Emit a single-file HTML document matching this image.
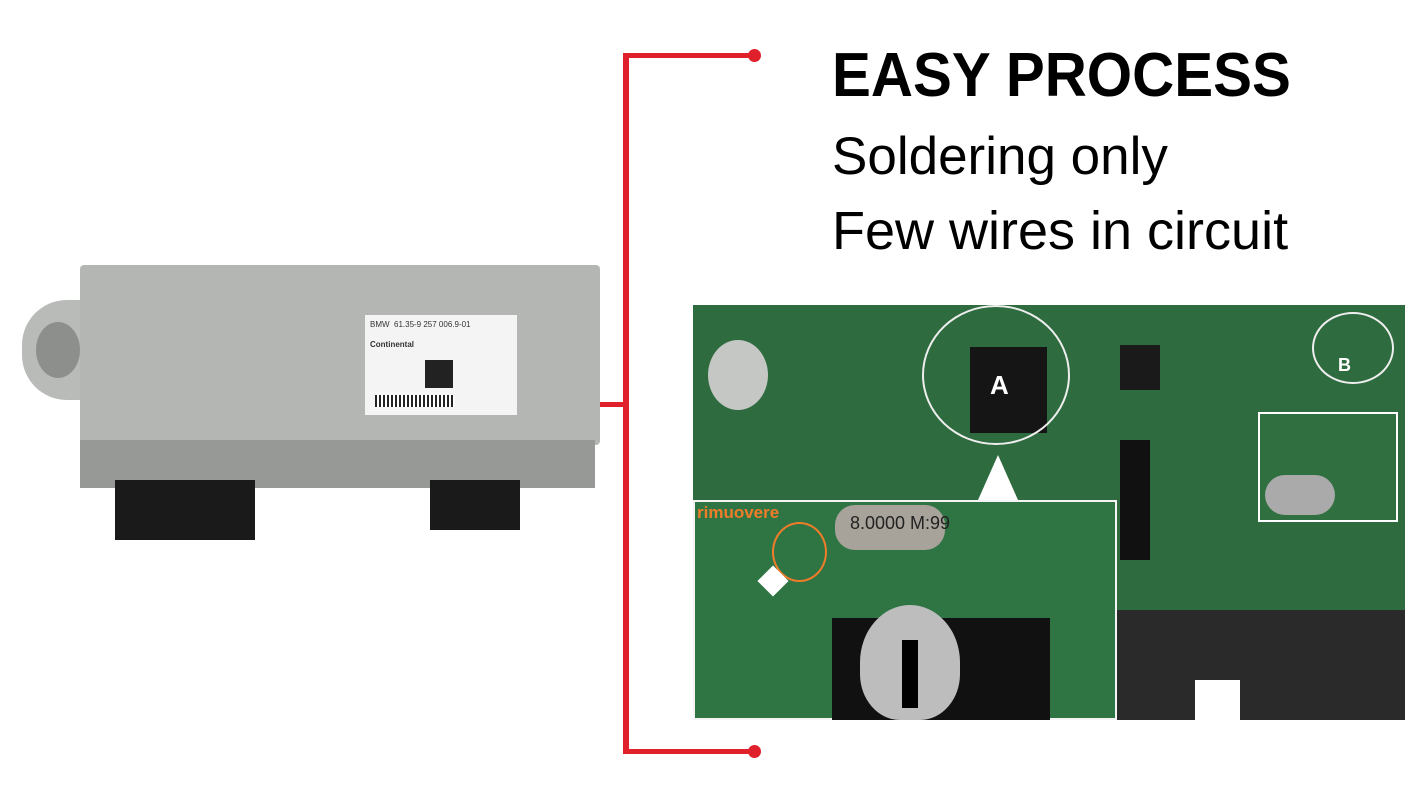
<!DOCTYPE html>
<html><head><meta charset="utf-8"><style>
body{margin:0;width:1424px;height:786px;background:#fff;position:relative;overflow:hidden;font-family:"Liberation Sans",sans-serif}
div{position:absolute;box-sizing:border-box}
.t{font-family:"Liberation Sans",sans-serif;color:#000;white-space:nowrap}
</style></head><body>
<!-- red bracket -->
<div style="left:623px;top:53px;width:6px;height:701px;background:#e0202a"></div>
<div style="left:623px;top:53px;width:132px;height:5px;background:#e0202a"></div>
<div style="left:623px;top:749px;width:132px;height:5px;background:#e0202a"></div>
<div style="left:535px;top:402px;width:92px;height:5px;background:#e0202a"></div>
<div style="left:748px;top:49px;width:13px;height:13px;border-radius:50%;background:#e0202a"></div>
<div style="left:748px;top:745px;width:13px;height:13px;border-radius:50%;background:#e0202a"></div>
<div style="left:527px;top:397px;width:14px;height:14px;border-radius:50%;background:#e0202a"></div>
<!-- text -->
<div class="t" style="left:832px;top:40px;font-size:62px;font-weight:bold;transform:scaleX(0.94);transform-origin:0 0">EASY PROCESS</div>
<div class="t" style="left:832px;top:126px;font-size:53px;">Soldering only</div>
<div class="t" style="left:832px;top:200px;font-size:54px;">Few wires in circuit</div>
<!-- module -->
<div style="left:22px;top:300px;width:70px;height:100px;background:#b9bbb8;border-radius:45px 0 0 45px"></div>
<div style="left:36px;top:322px;width:44px;height:56px;border-radius:50%;background:#8d8f8c"></div>
<div style="left:560px;top:320px;width:22px;height:70px;background:#a9aba8"></div>
<div style="left:80px;top:265px;width:520px;height:180px;background:#b4b6b3;border-radius:4px"></div>
<div style="left:80px;top:440px;width:515px;height:48px;background:#979996"></div>
<div style="left:115px;top:480px;width:140px;height:60px;background:#1a1a1a"></div>
<div style="left:430px;top:480px;width:90px;height:50px;background:#1a1a1a"></div>
<div style="left:365px;top:315px;width:152px;height:100px;background:#f4f4f4"></div>
<div style="left:425px;top:360px;width:28px;height:28px;background:#222"></div>
<div style="left:375px;top:395px;width:80px;height:12px;background:repeating-linear-gradient(90deg,#222 0 2px,#fff 2px 4px)"></div>
<div class="t" style="left:370px;top:320px;font-size:8px;color:#333">BMW &nbsp;61.35-9 257 006.9-01</div>
<div class="t" style="left:370px;top:340px;font-size:8px;color:#333;font-weight:bold">Continental</div>
<!-- PCB -->
<div style="left:693px;top:305px;width:712px;height:415px;background:#2e6b3e"></div>
<div style="left:1117px;top:610px;width:288px;height:110px;background:#2a2a2a"></div>
<div style="left:1195px;top:680px;width:45px;height:40px;background:#fff"></div>
<div style="left:708px;top:340px;width:60px;height:70px;border-radius:50%;background:#c5c7c4"></div>
<div style="left:970px;top:347px;width:77px;height:86px;background:#151515"></div>
<div class="t" style="left:990px;top:370px;font-size:26px;font-weight:bold;color:#fff">A</div>
<div style="left:922px;top:305px;width:148px;height:140px;border:2px solid #eee;border-radius:50%"></div>
<div style="left:1120px;top:345px;width:40px;height:45px;background:#1a1a1a"></div>
<div style="left:1120px;top:440px;width:30px;height:120px;background:#111"></div>
<div style="left:978px;top:455px;width:40px;height:45px;background:#fff;clip-path:polygon(50% 0,100% 100%,0 100%)"></div>
<div style="left:1312px;top:312px;width:82px;height:72px;border:2px solid #eee;border-radius:50%"></div>
<div class="t" style="left:1338px;top:355px;font-size:18px;font-weight:bold;color:#fff">B</div>
<div style="left:1258px;top:412px;width:140px;height:110px;border:2px solid #fff;background:#2f6f40"></div>
<div style="left:1265px;top:475px;width:70px;height:40px;background:#aaa;border-radius:20px"></div>
<!-- inset -->
<div style="left:693px;top:500px;width:424px;height:220px;border:2px solid #f4f4f4;background:#2f7544"></div>
<div style="left:835px;top:505px;width:110px;height:45px;background:#a8a39a;border-radius:20px"></div>
<div class="t" style="left:850px;top:513px;font-size:18px;color:#222">8.0000 M:99</div>
<div class="t" style="left:697px;top:503px;font-size:17px;font-weight:bold;color:#f07c2a">rimuovere</div>
<div style="left:772px;top:522px;width:55px;height:60px;border:2px solid #f07c2a;border-radius:50%"></div>
<div style="left:832px;top:618px;width:218px;height:102px;background:#111"></div>
<div style="left:860px;top:605px;width:100px;height:115px;background:#bdbdbd;border-radius:50% 50% 40% 40%"></div>
<div style="left:902px;top:640px;width:16px;height:68px;background:#000"></div>
<div style="left:762px;top:570px;width:22px;height:22px;background:#fff;transform:rotate(45deg)"></div>
</body></html>
